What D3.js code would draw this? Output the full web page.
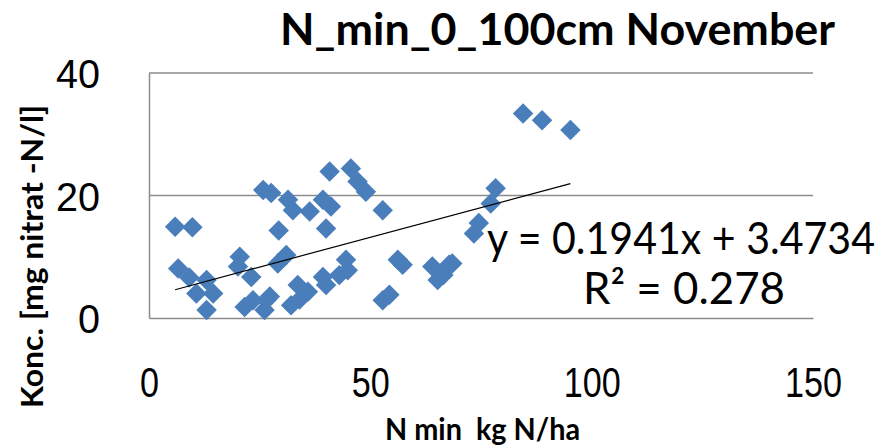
<!DOCTYPE html>
<html>
<head>
<meta charset="utf-8">
<script src="https://cdn.jsdelivr.net/npm/d3@7"></script>
<style>
html,body{margin:0;padding:0;background:#fff;}
svg{display:block;font-family:"Lato","Open Sans",sans-serif;}
text{white-space:pre;}
</style>
</head>
<body>
<svg id="chart" width="894" height="447"></svg>
<script>
// ---- data ----
const chartTitle = "N_min_0_100cm November";
const xTitle = "N min  kg N/ha";
const yTitle = "Konc. [mg nitrat -N/l]";
const xTicks = [0, 50, 100, 150];
const yTicks = [0, 20, 40];
const nmin = [5.9, 9.8, 6.6, 9.1, 13.0, 10.7, 14.5, 13.0, 20.5, 20.1, 23.1, 21.6, 23.5,
  26.1, 26.5, 27.3, 29.1, 31.0, 29.3, 25.8, 27.6, 31.4, 32.5, 36.3, 32.1, 33.6, 35.9, 34.0,
  39.3, 40.0, 43.0, 44.5, 44.9, 40.0, 39.3, 41.1, 40.8, 45.6, 47.1, 49.0, 52.8, 56.2, 57.3,
  54.3, 52.8, 64.0, 67.8, 65.2, 66.5, 68.5, 73.4, 74.5, 77.2, 78.3, 84.5, 88.8, 95.2];
const konc = [14.9, 14.8, 8.1, 6.6, 6.2, 4.0, 4.0, 1.3, 10.0, 8.4, 6.7, 1.8, 2.9,
  1.3, 2.9, 3.5, 8.9, 10.3, 14.3, 20.9, 20.4, 19.3, 17.6, 17.4, 2.1, 5.4, 4.3, 3.0,
  6.7, 5.4, 7.0, 9.5, 7.8, 14.6, 19.3, 18.2, 23.9, 24.4, 22.3, 20.6, 17.6, 9.5, 8.7,
  3.8, 2.9, 8.4, 8.7, 6.2, 7.0, 8.9, 13.8, 15.5, 18.7, 21.2, 33.4, 32.3, 30.7];
const slope = 0.1941, intercept = 3.4734, r2 = 0.278;
const eqText = "y = 0.1941x + 3.4734";
const r2Text = "R² = 0.278";

const svg = d3.select("#chart");
const x = d3.scaleLinear().domain([0, 150]).range([149, 813]);
const y = d3.scaleLinear().domain([0, 40]).range([318, 73]);
const grid = "#8c8c8c";

// gridlines
svg.append("g").selectAll("line").data(yTicks.filter(d => d > 0)).join("line")
  .attr("x1", x(0)).attr("x2", x(150)).attr("y1", d => y(d)).attr("y2", d => y(d))
  .attr("stroke", grid).attr("stroke-width", 1.5);

// axes
const xAxis = svg.append("g").attr("transform", `translate(0,${y(0)})`)
  .call(d3.axisBottom(x).tickValues(xTicks).tickSize(0).tickPadding(0).tickFormat(d3.format("d")));
xAxis.select(".domain").attr("stroke", grid).attr("stroke-width", 1.5);
xAxis.selectAll("text").attr("font-size", 42).attr("fill", "#000")
  .attr("dy", 0).attr("y", 79).attr("textLength", d => String(d).length * 19).attr("lengthAdjust", "spacingAndGlyphs");

const yAxis = svg.append("g").attr("transform", `translate(${x(0)},0)`)
  .call(d3.axisLeft(y).tickValues(yTicks).tickSize(0).tickPadding(0).tickFormat(d3.format("d")));
yAxis.select(".domain").attr("stroke", grid).attr("stroke-width", 1.5);
yAxis.selectAll("text").attr("font-size", 41).attr("fill", "#000")
  .attr("x", -49).attr("dy", "0.36em").attr("textLength", d => String(d).length * 22).attr("lengthAdjust", "spacingAndGlyphs");

// points
const pts = nmin.map((v, i) => ({ x: v, y: konc[i] }));
svg.append("g").selectAll("path").data(pts).join("path")
  .attr("d", d3.symbol(d3.symbolSquare, 210))
  .attr("transform", d => `translate(${x(d.x)},${y(d.y)}) rotate(45)`)
  .attr("fill", "#4a7ebb");

// trendline
const xMin = d3.min(nmin), xMax = d3.max(nmin);
svg.append("line")
  .attr("x1", x(xMin)).attr("y1", y(slope * xMin + intercept))
  .attr("x2", x(xMax)).attr("y2", y(slope * xMax + intercept))
  .attr("stroke", "#000").attr("stroke-width", 1.2);

// trendline labels
svg.append("text").attr("transform", "translate(487,254) scale(1,1.18)").attr("font-size", 38).attr("fill", "#000")
  .attr("textLength", 388).attr("lengthAdjust", "spacingAndGlyphs").text(eqText);
svg.append("text").attr("transform", "translate(583,304) scale(1,1.18)").attr("font-size", 38).attr("fill", "#000")
  .attr("textLength", 202).attr("lengthAdjust", "spacingAndGlyphs").text(r2Text);

// titles
svg.append("text").attr("x", 280).attr("y", 45).attr("font-size", 43).attr("font-weight", "bold")
  .attr("textLength", 555).attr("lengthAdjust", "spacingAndGlyphs").text(chartTitle);
svg.append("text").attr("x", 385).attr("y", 440).attr("font-size", 31).attr("font-weight", "bold")
  .attr("textLength", 195).attr("lengthAdjust", "spacingAndGlyphs").text(xTitle);
svg.append("text").attr("transform", "translate(43,408) rotate(-90)").attr("font-size", 30).attr("font-weight", "bold")
  .attr("textLength", 303).attr("lengthAdjust", "spacingAndGlyphs").text(yTitle);
</script>
</body>
</html>
